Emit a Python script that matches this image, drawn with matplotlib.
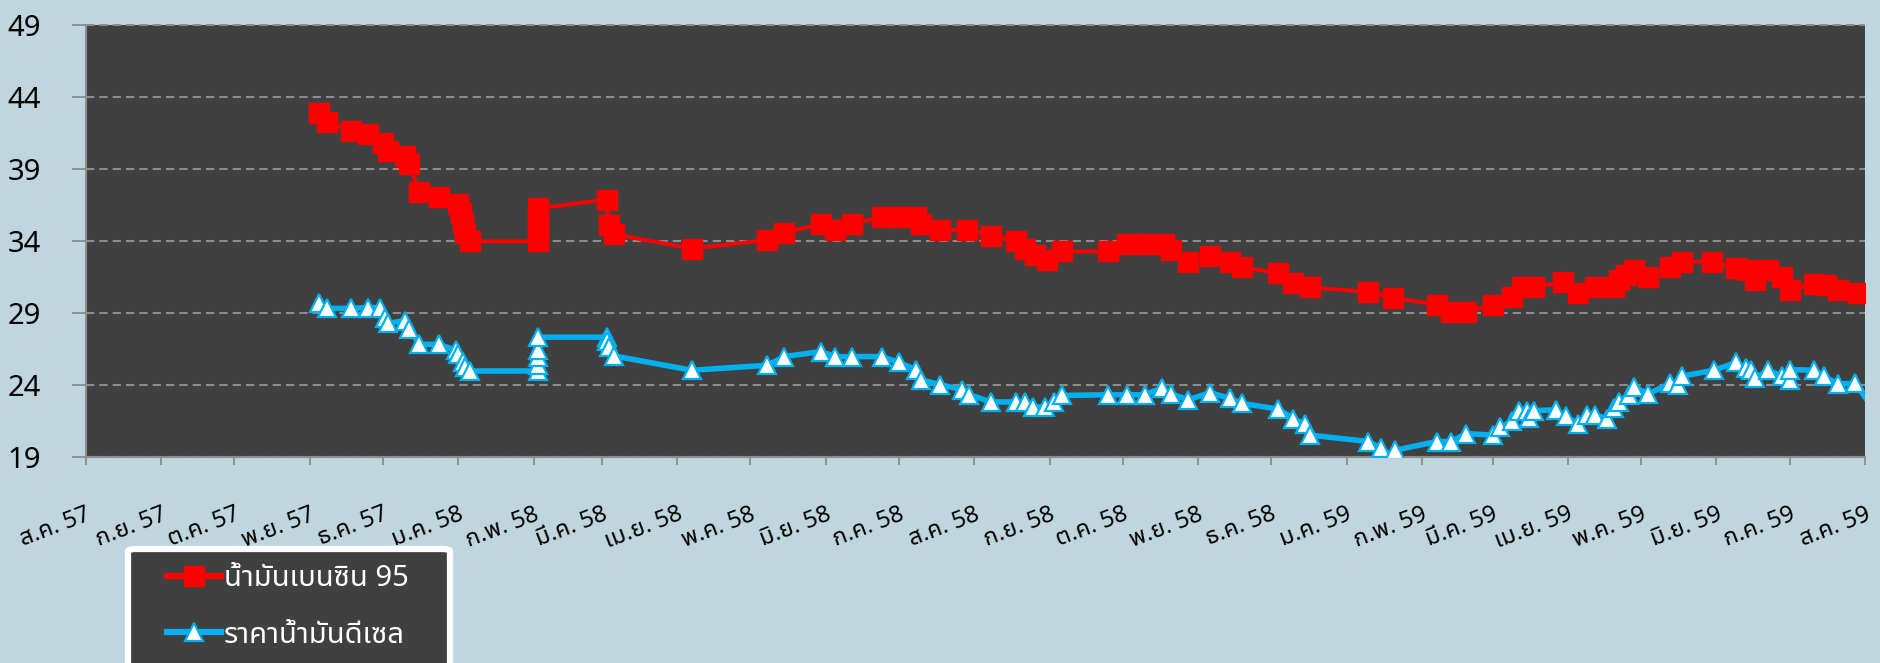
import pandas as pd
import matplotlib
matplotlib.use("Agg")
import matplotlib.pyplot as plt
from matplotlib import font_manager
from matplotlib.ft2font import FT2Font
from matplotlib.patches import FancyBboxPatch


def find_thai_font():
    # installed families that really have Thai glyphs, loopless sans first
    found = []
    for f in font_manager.fontManager.ttflist:
        try:
            cmap = FT2Font(f.fname).get_charmap()
        except Exception:
            continue
        if 0x0E01 in cmap and 0x0E49 in cmap and 0x0030 in cmap:
            found.append(f.name)
    for name in found:
        if "Noto Sans Thai" in name and "Looped" not in name:
            return name
    for name in found:
        if "Sans" in name:
            return name
    return found[0] if found else "DejaVu Sans"


thai_font = find_thai_font()
plt.rcParams["font.family"] = [thai_font, "DejaVu Sans"]

# price of gasoline 95 (red) and diesel (blue), baht / litre
red_dates = [
    "2014-11-05", "2014-11-08", "2014-11-18", "2014-11-25", "2014-12-01",
    "2014-12-03", "2014-12-10", "2014-12-12", "2014-12-16", "2014-12-24",
    "2015-01-01", "2015-01-02", "2015-01-03", "2015-01-04", "2015-01-06",
    "2015-02-03", "2015-02-03", "2015-02-03", "2015-02-03", "2015-02-03",
    "2015-03-03", "2015-03-04", "2015-03-06", "2015-04-07", "2015-05-08",
    "2015-05-15", "2015-05-30", "2015-06-05", "2015-06-12", "2015-06-24",
    "2015-07-01", "2015-07-08", "2015-07-10", "2015-07-18", "2015-07-29",
    "2015-08-08", "2015-08-18", "2015-08-22", "2015-08-26", "2015-08-31",
    "2015-09-06", "2015-09-25", "2015-10-03", "2015-10-10", "2015-10-18",
    "2015-10-21", "2015-10-28", "2015-11-06", "2015-11-14", "2015-11-19",
    "2015-12-04", "2015-12-10", "2015-12-17", "2016-01-10", "2016-01-20",
    "2016-02-07", "2016-02-13", "2016-02-19", "2016-03-01", "2016-03-09",
    "2016-03-13", "2016-03-18", "2016-03-30", "2016-04-05", "2016-04-12",
    "2016-04-20", "2016-04-22", "2016-04-25", "2016-04-28", "2016-05-04",
    "2016-05-13", "2016-05-18", "2016-05-30", "2016-06-09", "2016-06-14",
    "2016-06-17", "2016-06-22", "2016-06-28", "2016-07-01", "2016-07-11",
    "2016-07-16", "2016-07-21", "2016-07-29",
]
red_values = [
    42.85, 42.25, 41.65, 41.4, 40.75,
    40.25, 39.9, 39.35, 37.35, 37.05,
    36.55, 35.9, 35.2, 34.55, 33.95,
    33.95, 34.5, 35.1, 35.7, 36.25,
    36.85, 35.1, 34.45, 33.45, 34.05,
    34.55, 35.15, 34.75, 35.15, 35.65,
    35.65, 35.65, 35.15, 34.75, 34.75,
    34.35, 33.95, 33.4, 33.0, 32.65,
    33.25, 33.25, 33.75, 33.75, 33.75,
    33.35, 32.55, 32.95, 32.55, 32.15,
    31.75, 31.05, 30.75, 30.45, 30.05,
    29.55, 29.05, 29.05, 29.55, 30.1,
    30.75, 30.75, 31.15, 30.35, 30.75,
    30.8, 31.25, 31.6, 31.95, 31.5,
    32.2, 32.55, 32.55, 32.1, 31.95,
    31.3, 31.95, 31.5, 30.6, 31.0,
    30.9, 30.6, 30.35,
]

blue_dates = [
    "2014-11-05", "2014-11-08", "2014-11-18", "2014-11-25", "2014-11-30",
    "2014-12-02", "2014-12-03", "2014-12-10", "2014-12-12", "2014-12-16",
    "2014-12-24", "2014-12-31", "2015-01-01", "2015-01-03", "2015-01-04",
    "2015-01-06", "2015-02-03", "2015-02-03", "2015-02-03", "2015-02-03",
    "2015-02-03", "2015-03-03", "2015-03-03", "2015-03-04", "2015-03-06",
    "2015-04-07", "2015-05-08", "2015-05-15", "2015-05-30", "2015-06-05",
    "2015-06-12", "2015-06-24", "2015-07-01", "2015-07-08", "2015-07-10",
    "2015-07-18", "2015-07-27", "2015-07-30", "2015-08-08", "2015-08-18",
    "2015-08-22", "2015-08-25", "2015-08-30", "2015-09-03", "2015-09-06",
    "2015-09-25", "2015-10-03", "2015-10-10", "2015-10-17", "2015-10-21",
    "2015-10-28", "2015-11-06", "2015-11-14", "2015-11-19", "2015-12-04",
    "2015-12-10", "2015-12-15", "2015-12-17", "2016-01-10", "2016-01-15",
    "2016-01-20", "2016-01-21", "2016-02-07", "2016-02-13", "2016-02-19",
    "2016-03-01", "2016-03-04", "2016-03-09", "2016-03-12", "2016-03-15",
    "2016-03-16", "2016-03-18", "2016-03-27", "2016-03-31", "2016-04-05",
    "2016-04-09", "2016-04-12", "2016-04-17", "2016-04-20", "2016-04-22",
    "2016-04-26", "2016-04-28", "2016-05-04", "2016-05-13", "2016-05-16",
    "2016-05-18", "2016-05-31", "2016-06-09", "2016-06-13", "2016-06-15",
    "2016-06-17", "2016-06-22", "2016-06-28", "2016-07-01", "2016-07-01",
    "2016-07-11", "2016-07-15", "2016-07-21", "2016-07-28", "2016-08-08",
]
blue_values = [
    29.65, 29.3, 29.3, 29.35, 29.35,
    28.6, 28.25, 28.45, 27.9, 26.8,
    26.8, 26.4, 26.1, 25.6, 25.25,
    24.95, 24.95, 25.35, 25.9, 26.4,
    27.3, 27.3, 27.0, 26.6, 26.0,
    25.0, 25.35, 25.95, 26.3, 25.95,
    25.95, 25.95, 25.55, 25.05, 24.35,
    24.0, 23.65, 23.3, 22.8, 22.8,
    22.8, 22.45, 22.45, 22.8, 23.25,
    23.3, 23.3, 23.3, 23.75, 23.35,
    22.95, 23.45, 23.05, 22.7, 22.3,
    21.65, 21.25, 20.5, 20.05, 19.6,
    19.05, 19.45, 20.05, 20.05, 20.6,
    20.5, 21.05, 21.45, 22.2, 22.2,
    21.7, 22.2, 22.25, 21.8, 21.3,
    21.9, 21.9, 21.65, 22.35, 22.8,
    23.3, 23.85, 23.35, 24.1, 24.0,
    24.6, 25.0, 25.55, 25.15, 25.0,
    24.45, 25.0, 24.6, 24.3, 25.05,
    25.0, 24.6, 24.05, 24.1, 21.5,
]

series_names = ["น้ำมันเบนซิน 95", "ราคาน้ำมันดีเซล"]
month_labels = [
    "ส.ค. 57", "ก.ย. 57", "ต.ค. 57", "พ.ย. 57", "ธ.ค. 57",
    "ม.ค. 58", "ก.พ. 58", "มี.ค. 58", "เม.ย. 58", "พ.ค. 58", "มิ.ย. 58", "ก.ค. 58",
    "ส.ค. 58", "ก.ย. 58", "ต.ค. 58", "พ.ย. 58", "ธ.ค. 58",
    "ม.ค. 59", "ก.พ. 59", "มี.ค. 59", "เม.ย. 59", "พ.ค. 59", "มิ.ย. 59", "ก.ค. 59",
    "ส.ค. 59",
]
y_ticks = [19, 24, 29, 34, 39, 44, 49]

bg = "#C0D6DE"
fig = plt.figure(figsize=(18.8, 6.63), dpi=100, facecolor=bg)
ax = fig.add_axes([0.0456, 0.3112, 0.9464, 0.6516])
ax.set_facecolor("#404040")

ax.plot(pd.to_datetime(red_dates), red_values, color="#FF0000", lw=2.8,
        marker="s", markersize=14, markerfacecolor="#FF0000",
        markeredgecolor="#FF0000", label=series_names[0], zorder=3)
ax.plot(pd.to_datetime(blue_dates), blue_values, color="#00B0F0", lw=4,
        marker="^", markersize=13, markerfacecolor="white",
        markeredgecolor="#00B0F0", markeredgewidth=1.6,
        label=series_names[1], zorder=3)

ax.set_xlim(pd.Timestamp("2014-08-01"), pd.Timestamp("2016-08-01"))
ax.set_ylim(19, 49)

ax.set_yticks(y_ticks)
ax.set_yticklabels([str(v) for v in y_ticks], fontsize=21, color="black")
month_ticks = pd.date_range("2014-08-01", "2016-08-01", freq="MS")
ax.set_xticks(month_ticks)
ax.set_xticklabels(month_labels, fontsize=17, rotation=21, ha="right",
                   rotation_mode="anchor", color="black")

ax.tick_params(axis="y", direction="out", length=10, width=1.3,
               color="#8C8C8C", pad=22)
ax.tick_params(axis="x", direction="out", length=6, width=1.3,
               color="#8C8C8C", pad=27)

ax.grid(axis="y", color="#8C8C8C", lw=1.5, linestyle=(0, (4, 2.4)))
ax.grid(axis="x", visible=False)
for gl in ax.get_ygridlines():
    gl.set_clip_on(False)
ax.set_axisbelow(True)

for side in ["top", "right"]:
    ax.spines[side].set_visible(False)
ax.spines["left"].set_color("#8C8C8C")
ax.spines["left"].set_linewidth(1.5)
ax.spines["bottom"].set_color("#8C8C8C")
ax.spines["bottom"].set_linewidth(1.5)

# legend box: dark panel with a thick white rounded border, cut by the figure edge
fig.patches.append(FancyBboxPatch(
    (128 / 1880, -0.1), (450 - 128) / 1880, 0.1 + (663 - 549) / 663,
    boxstyle="round,pad=0,rounding_size=0.004", transform=fig.transFigure,
    facecolor="#404040", edgecolor="white", lw=4.5, zorder=-1))
leg = ax.legend(loc="upper left", bbox_to_anchor=(167 / 1880, 1 - 564 / 663),
                bbox_transform=fig.transFigure, fontsize=21, labelcolor="white",
                frameon=False, borderpad=0, labelspacing=0.95,
                handlelength=1.85, handletextpad=0.1, borderaxespad=0)
for line in leg.get_lines():
    line.set_linewidth(4.5)

fig.savefig("out.png", dpi=100, facecolor=bg)
